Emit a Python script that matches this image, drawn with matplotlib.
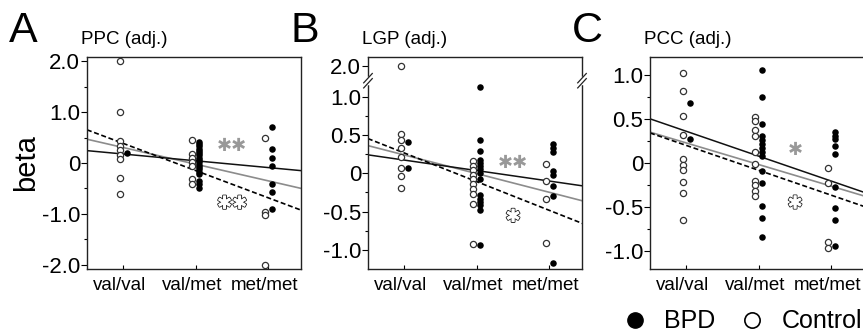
import matplotlib
matplotlib.use('Agg')
import matplotlib.pyplot as plt
import matplotlib.patheffects as pe
from matplotlib.transforms import ScaledTranslation
from matplotlib.lines import Line2D
import numpy as np

plt.rcParams['font.family'] = ['Liberation Sans', 'DejaVu Sans']

groups = ['val/val', 'val/met', 'met/met']
panel_letters = ['A', 'B', 'C']
titles = ['PPC (adj.)', 'LGP (adj.)', 'PCC (adj.)']

# PPC
ppc_ctrl = [[2.0, 1.0, 0.43, 0.33, 0.25, 0.16, 0.07, -0.30, -0.60],
            [0.45, 0.17, 0.10, 0.02, -0.06, -0.32, -0.42],
            [0.49, -0.96, -1.02, -2.0]]
ppc_bpd = [[0.19],
           [0.42, 0.38, 0.33, 0.28, 0.24, 0.20, 0.15, 0.10, 0.06, 0.02,
            -0.03, -0.08, -0.12, -0.17, -0.22, -0.35, -0.42, -0.50],
           [0.70, 0.28, 0.10, -0.06, -0.42, -0.57, -0.90]]
# LGP
lgp_ctrl = [[2.0, 0.51, 0.44, 0.33, 0.21, 0.07, -0.03, -0.19],
            [0.16, 0.10, 0.04, -0.02, -0.08, -0.14, -0.20, -0.27, -0.40, -0.92],
            [0.12, -0.10, -0.34, -0.91]]
lgp_bpd = [[0.41, 0.07],
           [1.13, 0.44, 0.29, 0.17, 0.13, 0.09, 0.05, 0.01, -0.08,
            -0.28, -0.33, -0.37, -0.41, -0.48, -0.93],
           [0.38, 0.33, 0.28, 0.03, -0.02, -0.17, -0.30, -1.17]]
# PCC
pcc_ctrl = [[1.02, 0.82, 0.53, 0.32, 0.05, -0.02, -0.08, -0.22, -0.34, -0.64],
            [0.52, 0.47, 0.37, 0.31, 0.12, -0.01, -0.20, -0.25, -0.32, -0.37],
            [-0.06, -0.23, -0.90, -0.96]]
pcc_bpd = [[0.68, 0.27],
           [1.05, 0.75, 0.44, 0.30, 0.26, 0.21, 0.17, 0.12, 0.08,
            -0.09, -0.23, -0.49, -0.62, -0.84],
           [0.35, 0.31, 0.27, 0.19, 0.10, -0.27, -0.51, -0.64, -0.94]]

# regression lines (intercept, slope) over group index 1..3
fit_bpd = [(0.309, -0.133), (0.31, -0.137), (0.641, -0.282)]
fit_all = [(0.63, -0.327), (0.484, -0.244), (0.472, -0.245)]
fit_ctrl = [(0.918, -0.534), (0.641, -0.375), (0.481, -0.282)]

# significance marks
star_gray = ['**', '**', '*']
star_gray_y = [0.33, 0.14, 0.15]
star_open = ['**', '*', '*']
star_open_y = [-0.80, -0.57, -0.46]

ylims = [(-2.08, 2.08), (-1.25, 1.52), (-1.2, 1.2)]
yticks = [[-2, -1, 0, 1, 2], [-1, -0.5, 0, 0.5, 1, 1.40], [-1, -0.5, 0, 0.5, 1]]
yticklabels = [['-2.0', '-1.0', '0', '1.0', '2.0'],
               ['-1.0', '-0.5', '0', '0.5', '1.0', '2.0'],
               ['-1.0', '-0.5', '0', '0.5', '1.0']]
yminor = [[-1.5, -0.5, 0.5, 1.5], [-0.75, -0.25, 0.25, 0.75], [-0.75, -0.25, 0.25, 0.75]]

ctrl_all = [ppc_ctrl, lgp_ctrl, pcc_ctrl]
bpd_all = [ppc_bpd, lgp_bpd, pcc_bpd]

fig = plt.figure(figsize=(8.63, 3.36), dpi=100)
lefts = [0.1008, 0.4264, 0.7532]
gray = '#8c8c8c'
# group labels sit a few pixels left of the ticks
shift = ScaledTranslation(-4 / 100, -8 / 100, fig.dpi_scale_trans)

for p in range(3):
    ax = fig.add_axes([lefts[p], 0.1994, 0.248, 0.631])
    for g in range(3):
        yc = np.array(ctrl_all[p][g])
        yb = np.array(bpd_all[p][g])
        if p == 1:
            # broken axis: 2.0 drawn above the break
            yc = np.where(yc > 1.5, 1.40, yc)
        ax.scatter(np.full(len(yc), g + 1 - 0.05), yc, s=20, facecolor='white',
                   edgecolor='#333333', linewidth=0.9, zorder=3)
        ax.scatter(np.full(len(yb), g + 1 + 0.05), yb, s=22, color='black',
                   linewidth=0, zorder=3)
        ax.text(g + 1, 0, groups[g], fontsize=13.5, ha='center', va='top',
                transform=ax.get_xaxis_transform() + shift)
    xs = np.array([0.4, 3.6])
    ax.plot(xs, fit_all[p][0] + fit_all[p][1] * xs, color=gray, lw=1.2, zorder=2)
    ax.plot(xs, fit_bpd[p][0] + fit_bpd[p][1] * xs, color='#111111', lw=1.1, zorder=2)
    ax.plot(xs, fit_ctrl[p][0] + fit_ctrl[p][1] * xs, color='black', lw=1.2,
            ls=(0, (3, 1.6)), zorder=2)

    ax.text(2.5, star_gray_y[p], star_gray[p].replace('*', '\u2731'), color='#999999',
            fontsize=13, ha='center', va='center', family='DejaVu Sans')
    t = ax.text(2.5, star_open_y[p], star_open[p].replace('*', '\u2731'), color='white',
                fontsize=13, ha='center', va='center', family='DejaVu Sans')
    t.set_path_effects([pe.withStroke(linewidth=1.4, foreground='#222222'),
                        pe.Normal()])

    ax.set_xlim(0.5, 3.45)
    ax.set_ylim(*ylims[p])
    ax.set_xticks([1, 2, 3])
    ax.set_xticklabels([])
    ax.set_yticks(yticks[p])
    ax.set_yticklabels(yticklabels[p], fontsize=16)
    ax.set_yticks(yminor[p], minor=True)
    ax.tick_params(axis='x', direction='in', length=3, width=0.8)
    ax.tick_params(axis='y', which='major', direction='out', length=4, pad=1, width=0.8)
    ax.tick_params(axis='y', which='minor', direction='out', length=2.5, width=0.8)
    for s in ax.spines.values():
        s.set_linewidth(1.0)
        s.set_color('#222222')

    if p == 1:
        lo, hi = ylims[p]
        yb_ax = (1.21 - lo) / (hi - lo)
        for xa in (0.0, 1.0):
            ax.plot([xa, xa], [yb_ax - 0.012, yb_ax + 0.012], color='white', lw=2.5,
                    transform=ax.transAxes, clip_on=False, zorder=6)
            for off in (-0.012, 0.012):
                ax.plot([xa - 0.02, xa + 0.02], [yb_ax + off - 0.022, yb_ax + off + 0.022],
                        color='#222222', lw=0.9, transform=ax.transAxes,
                        clip_on=False, zorder=7)

    if p == 0:
        ax.set_ylabel('beta', fontsize=21, labelpad=1)

    fig.text(lefts[p] - 0.09, 0.875, panel_letters[p], fontsize=31, ha='left', va='baseline')
    fig.text(lefts[p] - 0.007, 0.87, titles[p], fontsize=13.5, ha='left', va='baseline')

handles = [Line2D([], [], marker='o', ls='none', color='black', markersize=11),
           Line2D([], [], marker='o', ls='none', markerfacecolor='white',
                  markeredgecolor='black', markeredgewidth=1.2, markersize=11)]
fig.legend(handles, ['BPD', 'Control'], loc='lower right', bbox_to_anchor=(0.999, 0.008),
           ncol=2, frameon=False, fontsize=18, handletextpad=0.67, columnspacing=0.98,
           handlelength=1.0, borderaxespad=0, borderpad=0)

fig.savefig('out.png', dpi=100)
